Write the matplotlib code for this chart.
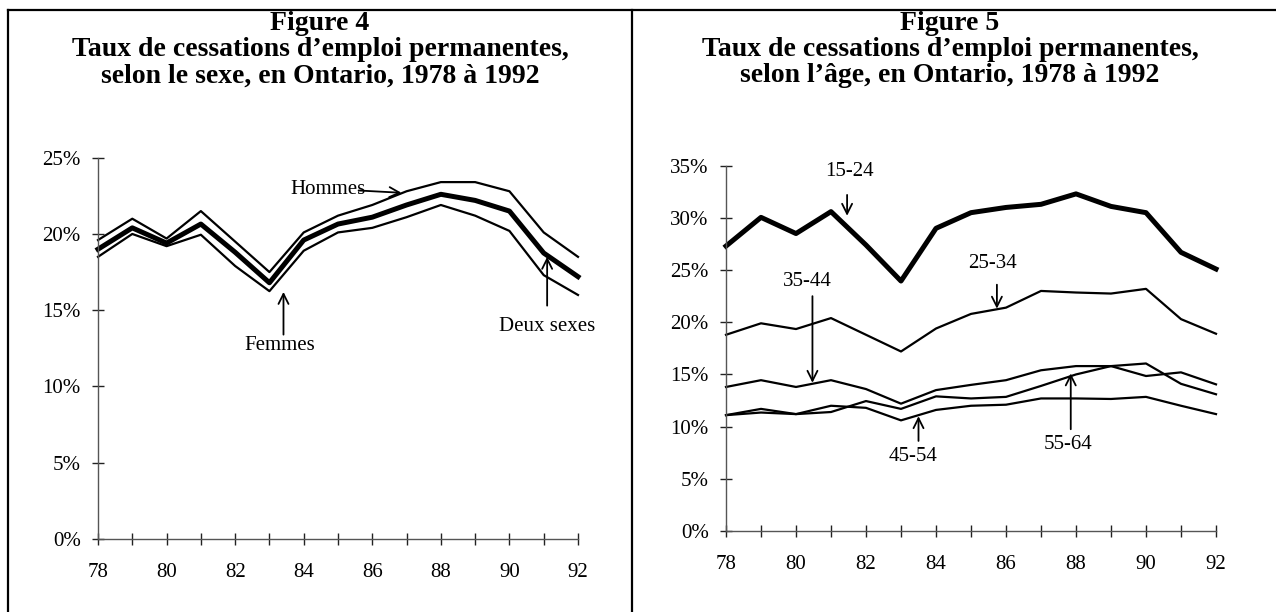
import numpy as np
import matplotlib
matplotlib.use("Agg")
import matplotlib.pyplot as plt
from matplotlib.lines import Line2D
from matplotlib.ticker import FuncFormatter, MultipleLocator

plt.rcParams['font.family'] = ['Liberation Serif', 'DejaVu Serif']

# données
annees = list(range(78, 93))

# Figure 4 : selon le sexe
hommes = [19.6, 21.0, 19.7, 21.5, 19.5, 17.5, 20.1, 21.2, 21.9, 22.8, 23.4, 23.4, 22.8, 20.1, 18.5]
deux_sexes = [19.0, 20.4, 19.4, 20.65, 18.8, 16.8, 19.6, 20.65, 21.1, 21.9, 22.6, 22.2, 21.5, 18.75, 17.2]
femmes = [18.5, 20.0, 19.2, 19.95, 17.9, 16.25, 18.9, 20.1, 20.4, 21.1, 21.9, 21.2, 20.2, 17.3, 16.0]

# Figure 5 : selon l'âge
age_15_24 = [27.3, 30.05, 28.5, 30.6, 27.4, 23.95, 29.0, 30.5, 31.0, 31.3, 32.3, 31.1, 30.5, 26.7, 25.1]
age_25_34 = [18.8, 19.9, 19.35, 20.4, 18.8, 17.2, 19.4, 20.8, 21.4, 23.0, 22.85, 22.75, 23.2, 20.3, 18.9]
age_35_44 = [13.8, 14.45, 13.8, 14.45, 13.6, 12.2, 13.5, 14.0, 14.45, 15.4, 15.8, 15.8, 16.05, 14.1, 13.1]
age_45_54 = [11.1, 11.7, 11.2, 12.0, 11.8, 10.6, 11.6, 12.0, 12.1, 12.7, 12.7, 12.65, 12.85, 12.0, 11.2]
age_55_64 = [11.1, 11.35, 11.2, 11.4, 12.45, 11.7, 12.9, 12.7, 12.85, 13.9, 15.0, 15.8, 14.85, 15.2, 14.05]

W, H = 1276, 612
fig = plt.figure(figsize=(W / 100, H / 100), dpi=100)


def px_axes(x0, x1, y_top, y_bot):
    return fig.add_axes([x0 / W, 1 - y_bot / H, (x1 - x0) / W, (y_bot - y_top) / H])


def style_axes(ax, ymax):
    ax.set_xlim(78, 92)
    ax.set_ylim(0, ymax)
    for s in ['top', 'right']:
        ax.spines[s].set_visible(False)
    for s in ['left', 'bottom']:
        ax.spines[s].set_color('#555555')
        ax.spines[s].set_linewidth(1.0)
    ax.xaxis.set_major_locator(MultipleLocator(2))
    ax.xaxis.set_minor_locator(MultipleLocator(1))
    ax.yaxis.set_major_locator(MultipleLocator(5))
    ax.yaxis.set_major_formatter(FuncFormatter(lambda v, p: f"{v:.0f}%"))
    ax.tick_params(axis='both', which='both', direction='inout', length=9,
                   width=1.0, color='#222222', labelsize=15)
    ax.tick_params(axis='x', which='both', pad=13)
    ax.tick_params(axis='y', pad=8)
    ax.tick_params(axis='y', which='minor', left=False)


def arrow(ax, tail, tip):
    ax.annotate('', xy=tip, xytext=tail,
                arrowprops=dict(arrowstyle='->', lw=1.3, color='black',
                                mutation_scale=18, shrinkA=0, shrinkB=0))


# --- Figure 4 ---
ax1 = px_axes(98, 578, 157.7, 539)
style_axes(ax1, 25)
ax1.plot(annees, hommes, color='black', lw=1.6, clip_on=False)
ax1.plot(annees, femmes, color='black', lw=1.6, clip_on=False)
ax1.plot(annees, deux_sexes, color='black', lw=3.6, clip_on=False)

ax1.text(84.7, 22.9, "Hommes", fontsize=15, ha='center', va='center')
arrow(ax1, (85.6, 22.85), (86.85, 22.7))
ax1.text(83.3, 12.7, "Femmes", fontsize=15, ha='center', va='center')
arrow(ax1, (83.41, 13.4), (83.41, 16.2))
ax1.text(91.1, 13.9, "Deux sexes", fontsize=15, ha='center', va='center')
arrow(ax1, (91.1, 15.3), (91.1, 18.5))

# --- Figure 5 ---
ax2 = px_axes(726, 1216, 165.7, 531)
style_axes(ax2, 35)
ax2.plot(annees, age_15_24, color='black', lw=3.6, clip_on=False)
for serie in [age_25_34, age_35_44, age_45_54, age_55_64]:
    ax2.plot(annees, serie, color='black', lw=1.6, clip_on=False)

ax2.text(81.52, 34.4, "15-24", fontsize=15, ha='center', va='center')
arrow(ax2, (81.46, 32.2), (81.46, 30.2))
ax2.text(85.62, 25.6, "25-34", fontsize=15, ha='center', va='center')
arrow(ax2, (85.74, 23.6), (85.74, 21.3))
ax2.text(80.32, 23.95, "35-44", fontsize=15, ha='center', va='center')
arrow(ax2, (80.47, 22.5), (80.47, 14.2))
ax2.text(83.34, 7.13, "45-54", fontsize=15, ha='center', va='center')
arrow(ax2, (83.5, 8.63), (83.5, 11.0))
ax2.text(87.76, 8.25, "55-64", fontsize=15, ha='center', va='center')
arrow(ax2, (87.85, 9.75), (87.85, 15.1))

# --- titres ---
titres = [
    (320, ["Figure 4", "Taux de cessations d’emploi permanentes,",
           "selon le sexe, en Ontario, 1978 à 1992"]),
    (950, ["Figure 5", "Taux de cessations d’emploi permanentes,",
           "selon l’âge, en Ontario, 1978 à 1992"]),
]
for xc, lignes in titres:
    for yc, ligne in zip([24, 50, 76], lignes):
        fig.text(xc / W, 1 - yc / H, ligne, fontsize=20, fontweight='bold',
                 ha='center', va='center')

# --- cadres ---
def fig_line(xs, ys):
    fig.add_artist(Line2D([x / W for x in xs], [1 - y / H for y in ys],
                          color='black', lw=1.6, transform=fig.transFigure))


fig_line([8, W], [10, 10])
fig_line([8, 8], [10, H])
fig_line([632, 632], [10, H])

fig.savefig("out.png", dpi=100)
